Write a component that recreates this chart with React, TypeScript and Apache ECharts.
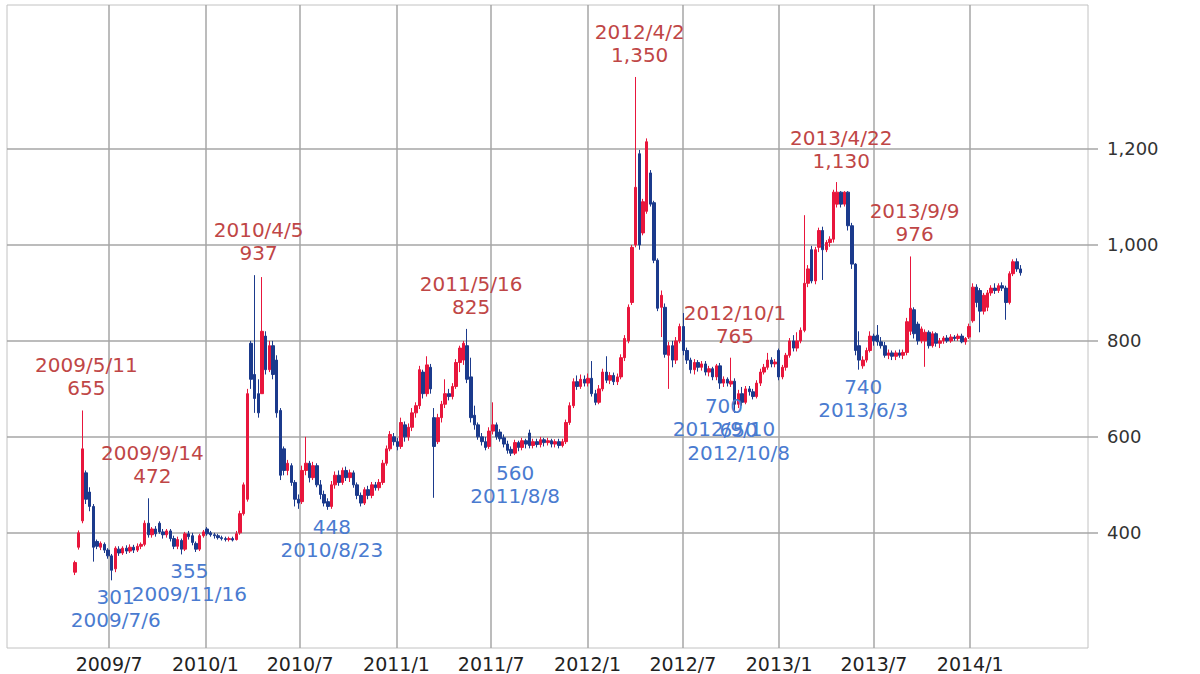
import React, { useEffect, useRef } from "react";
import * as echarts from "echarts";

// Weekly candles, first week starting 2009/4/27, one entry per week: [open, close, low, high]
const FIRST_WEEK = "2009/4/27";
const OHLC: number[][] = [
  [318, 338, 312, 342], [370, 400, 365, 405], [425, 575, 420, 655], [525, 470, 460, 530],
  [485, 455, 445, 495], [455, 370, 340, 460], [382, 372, 366, 386], [370, 378, 364, 382],
  [376, 364, 358, 380], [364, 352, 346, 368], [352, 322, 301, 356], [325, 368, 318, 372],
  [366, 358, 352, 372], [358, 368, 354, 372], [368, 362, 356, 374], [362, 370, 358, 376],
  [370, 364, 358, 375], [364, 372, 360, 378], [372, 376, 366, 380], [376, 420, 372, 426],
  [420, 396, 390, 472], [396, 408, 390, 412], [408, 398, 392, 414], [420, 402, 398, 424],
  [402, 396, 388, 408], [396, 404, 390, 408], [404, 388, 382, 408], [388, 372, 366, 394],
  [372, 386, 366, 392], [384, 366, 355, 388], [366, 398, 362, 402], [398, 392, 386, 404],
  [394, 380, 374, 400], [378, 366, 360, 382], [366, 394, 362, 398], [394, 402, 390, 406],
  [408, 398, 394, 412], [400, 396, 392, 404], [396, 394, 388, 400], [394, 390, 386, 398],
  [390, 388, 384, 394], [388, 386, 382, 392], [386, 388, 382, 392], [388, 385, 382, 392],
  [386, 398, 384, 404], [400, 440, 396, 446], [440, 500, 436, 505], [470, 690, 465, 700],
  [795, 720, 700, 800], [730, 680, 650, 937], [690, 650, 640, 720], [690, 820, 690, 933],
  [810, 740, 730, 820], [740, 790, 735, 800], [790, 730, 720, 800], [760, 650, 640, 770],
  [655, 520, 510, 660], [575, 530, 520, 580], [530, 545, 520, 552], [540, 505, 498, 545],
  [505, 470, 455, 510], [470, 462, 450, 480], [465, 530, 460, 540], [530, 545, 520, 600],
  [545, 515, 505, 550], [515, 540, 510, 548], [540, 500, 495, 545], [500, 480, 470, 510],
  [480, 462, 455, 488], [465, 455, 448, 472], [455, 500, 450, 508], [500, 520, 492, 528],
  [520, 505, 498, 530], [505, 530, 500, 536], [530, 515, 508, 538], [515, 525, 506, 532],
  [525, 500, 494, 530], [500, 478, 470, 505], [478, 462, 455, 484], [462, 490, 458, 495],
  [490, 478, 470, 498], [478, 500, 472, 506], [500, 494, 488, 506], [494, 505, 488, 512],
  [505, 545, 500, 552], [545, 575, 540, 582], [575, 605, 570, 612], [600, 590, 582, 608],
  [590, 580, 572, 598], [580, 630, 575, 640], [625, 600, 590, 632], [600, 620, 592, 628],
  [620, 650, 612, 660], [650, 665, 640, 672], [665, 740, 658, 748], [735, 690, 680, 740],
  [690, 750, 684, 768], [745, 700, 690, 752], [640, 580, 473, 660], [590, 640, 585, 648],
  [640, 668, 630, 675], [668, 690, 660, 720], [690, 684, 676, 700], [684, 705, 678, 712],
  [705, 755, 700, 762], [755, 785, 735, 790], [760, 795, 750, 800], [790, 720, 712, 825],
  [725, 640, 630, 765], [645, 625, 615, 665], [625, 600, 594, 630], [600, 590, 582, 608],
  [590, 578, 572, 600], [580, 612, 575, 620], [612, 625, 605, 672], [625, 600, 594, 630],
  [610, 596, 590, 616], [598, 585, 578, 605], [585, 572, 565, 592], [574, 566, 560, 580],
  [566, 588, 562, 594], [588, 578, 570, 592], [578, 592, 572, 598], [592, 585, 576, 596],
  [608, 582, 576, 615], [582, 590, 576, 596], [590, 584, 578, 596], [584, 594, 578, 600],
  [594, 588, 580, 598], [588, 592, 582, 598], [592, 585, 578, 596], [585, 590, 578, 595],
  [590, 582, 576, 596], [582, 590, 578, 596], [590, 630, 585, 636], [630, 665, 625, 672],
  [665, 715, 660, 722], [715, 705, 698, 728], [705, 720, 700, 730], [720, 712, 705, 728],
  [712, 722, 705, 732], [722, 690, 684, 758], [690, 672, 666, 698], [672, 700, 668, 708],
  [700, 735, 695, 742], [735, 718, 712, 768], [718, 728, 710, 735], [728, 715, 708, 734],
  [715, 725, 708, 732], [725, 765, 720, 772], [765, 805, 758, 812], [800, 870, 795, 876],
  [880, 995, 875, 1000], [1000, 1120, 995, 1350], [1190, 1000, 990, 1198], [1025, 1090, 1020, 1096],
  [1070, 1215, 1065, 1222], [1150, 1085, 1080, 1156], [1088, 968, 962, 1092], [968, 868, 862, 972],
  [870, 895, 808, 905], [870, 772, 765, 878], [770, 790, 700, 798], [790, 760, 745, 800],
  [760, 800, 752, 808], [800, 830, 795, 836], [830, 780, 770, 858], [780, 760, 752, 786],
  [760, 740, 732, 765], [740, 755, 730, 762], [755, 745, 736, 760], [745, 752, 738, 758],
  [752, 735, 728, 758], [735, 742, 726, 748], [742, 725, 718, 746], [725, 748, 718, 752],
  [748, 712, 700, 754], [712, 720, 704, 726], [720, 712, 705, 724], [710, 716, 704, 765],
  [716, 668, 650, 722], [668, 690, 660, 698], [690, 672, 665, 704], [672, 700, 668, 706],
  [700, 694, 686, 706], [694, 684, 678, 700], [684, 712, 680, 718], [712, 735, 706, 742],
  [735, 745, 730, 752], [745, 760, 740, 775], [760, 752, 745, 766], [752, 756, 745, 762],
  [780, 725, 718, 784], [725, 745, 720, 750], [745, 770, 738, 775], [770, 800, 765, 806],
  [800, 785, 778, 812], [785, 800, 778, 818], [800, 822, 795, 828], [822, 920, 818, 1062],
  [920, 950, 912, 958], [990, 925, 920, 998], [925, 990, 918, 996], [995, 1030, 985, 1036],
  [1030, 990, 927, 1038], [990, 1005, 985, 1010], [1005, 1012, 996, 1018], [1012, 1110, 1005, 1115],
  [1085, 1110, 1078, 1131], [1110, 1085, 1078, 1112], [1085, 1110, 1080, 1112], [1110, 1040, 1030, 1112],
  [1040, 960, 950, 1046], [960, 780, 770, 962], [790, 760, 740, 820], [748, 760, 742, 768],
  [760, 780, 755, 786], [780, 810, 776, 820], [810, 800, 790, 815], [812, 798, 790, 833],
  [798, 790, 784, 808], [790, 770, 765, 798], [770, 775, 762, 782], [775, 768, 760, 780],
  [768, 775, 760, 780], [775, 770, 765, 782], [770, 776, 762, 782], [776, 840, 770, 848],
  [820, 868, 812, 976], [865, 815, 805, 870], [835, 800, 792, 840], [800, 825, 795, 830],
  [800, 818, 746, 824], [818, 790, 784, 822], [790, 815, 786, 820], [815, 795, 788, 818],
  [795, 800, 785, 806], [800, 806, 794, 810], [806, 800, 796, 812], [800, 808, 796, 814],
  [808, 805, 800, 812], [805, 810, 800, 815], [810, 798, 795, 815], [798, 805, 792, 808],
  [808, 830, 804, 836], [842, 912, 838, 920], [912, 880, 870, 918], [905, 862, 818, 910],
  [862, 895, 855, 900], [870, 900, 862, 906], [900, 910, 894, 916], [910, 905, 898, 920],
  [905, 915, 900, 920], [915, 910, 904, 922], [910, 880, 844, 915], [880, 940, 876, 945],
  [940, 965, 935, 970], [965, 950, 944, 972], [950, 942, 936, 958],
];

const X_START = "2008/12/18";
const X_END = "2014/8/14";
const X_TICKS = ["2009/7", "2010/1", "2010/7", "2011/1", "2011/7", "2012/1", "2012/7", "2013/1", "2013/7", "2014/1"];
const Y_TICKS = [400, 600, 800, 1000, 1200];
const Y_MIN = 160;
const Y_MAX = 1500;

const HIGH_DATES = ["2009/5/11", "2009/9/14", "2010/4/5", "2011/5/16", "2012/4/2", "2012/10/1", "2013/4/22", "2013/9/9"];
const HIGH_VALUES = [655, 472, 937, 825, 1350, 765, 1130, 976];
const LOW_DATES = ["2009/7/6", "2009/11/16", "2010/8/23", "2011/8/8", "2012/9/10", "2012/10/8", "2013/6/3"];
const LOW_VALUES = [301, 355, 448, 560, 700, 650, 740];

const UP = "#e8163c";
const DOWN = "#1b3a8c";
const HIGH_TEXT = "#bf4646";
const LOW_TEXT = "#4a7bd0";
const GRID_LINE = "#a6a6a6";
const FONT = "DejaVu Sans";
const DAY = 86400000;

function toTs(s: string): number {
  const p = s.split("/").map(Number);
  return Date.UTC(p[0], p[1] - 1, p[2] || 1);
}
const fmt = (v: number) => v.toLocaleString("en-US");

export default function App() {
  const ref = useRef<HTMLDivElement>(null);
  useEffect(() => {
    document.body.style.margin = "0";
    if (!ref.current) return;
    const chart = echarts.init(ref.current, null, { renderer: "svg" });
    const start = toTs(FIRST_WEEK);
    const data = OHLC.map((r, i) => [start + i * 7 * DAY, r[0], r[1], r[2], r[3]]);
    const xTickVals = X_TICKS.map(toTs);

    const highPoints = HIGH_DATES.map((d, i) => ({
      coord: [toTs(d), HIGH_VALUES[i]],
      label: {
        position: "top",
        distance: 10,
        offset: [4, 0],
        color: HIGH_TEXT,
        formatter: `${d}\n${fmt(HIGH_VALUES[i])}`,
      },
    }));
    const lowPoints = LOW_DATES.map((d, i) => ({
      coord: [toTs(d), LOW_VALUES[i]],
      label: {
        position: "bottom",
        distance: 5,
        offset: [d === "2009/11/16" ? 8 : 4, 0],
        color: LOW_TEXT,
        formatter: `${fmt(LOW_VALUES[i])}\n${d}`,
      },
    }));

    chart.setOption({
      animation: false,
      backgroundColor: "#ffffff",
      textStyle: { fontFamily: FONT },
      grid: {
        left: 7,
        right: 112,
        top: 5,
        bottom: 26,
        containLabel: false,
        outerBoundsMode: "none",
        show: true,
        borderColor: "#c2c2c2",
        borderWidth: 1,
      },
      xAxis: {
        type: "value",
        min: toTs(X_START),
        max: toTs(X_END),
        scale: true,
        axisLine: { show: false },
        axisTick: { show: false, customValues: xTickVals },
        splitLine: { show: true, lineStyle: { color: GRID_LINE, width: 1.5 } },
        axisLabel: {
          customValues: xTickVals,
          margin: 6,
          color: "#222",
          fontSize: 19,
          fontFamily: FONT,
          hideOverlap: false,
          formatter: (v: number) => {
            const d = new Date(v);
            return `${d.getUTCFullYear()}/${d.getUTCMonth() + 1}`;
          },
        },
      },
      yAxis: {
        type: "value",
        position: "right",
        min: Y_MIN,
        max: Y_MAX,
        scale: true,
        axisLine: { show: false },
        axisTick: {
          show: true,
          length: 10,
          customValues: Y_TICKS,
          lineStyle: { color: GRID_LINE, width: 1.5 },
        },
        splitLine: { show: true, lineStyle: { color: GRID_LINE, width: 1.5 } },
        axisLabel: {
          customValues: Y_TICKS,
          margin: 19,
          color: "#333",
          fontSize: 18,
          fontFamily: FONT,
          formatter: (v: number) => fmt(v),
        },
      },
      series: [
        {
          type: "candlestick",
          data,
          barWidth: 3,
          itemStyle: {
            color: UP,
            color0: DOWN,
            borderColor: UP,
            borderColor0: DOWN,
            borderWidth: 1,
          },
          markPoint: {
            symbol: "circle",
            symbolSize: 1,
            itemStyle: { color: "rgba(0,0,0,0)" },
            label: {
              show: true,
              fontSize: 20,
              fontFamily: FONT,
              lineHeight: 23,
              align: "center",
            },
            data: [...highPoints, ...lowPoints],
          },
        },
      ],
    });
    return () => chart.dispose();
  }, []);
  return <div ref={ref} style={{ width: 1200, height: 674 }} />;
}
